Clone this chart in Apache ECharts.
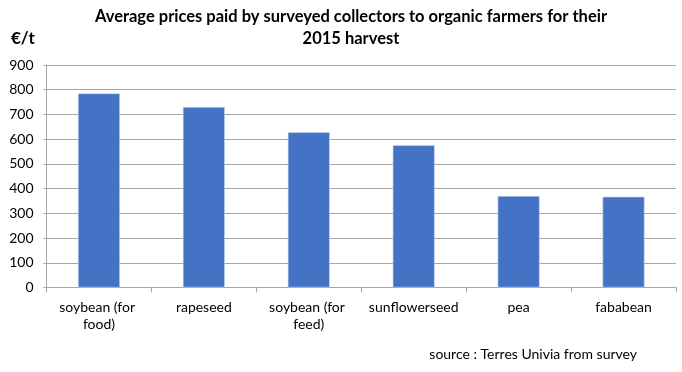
<!DOCTYPE html>
<html><head><meta charset="utf-8">
<script src="https://cdn.jsdelivr.net/npm/echarts@6/dist/echarts.min.js"></script>
<style>html,body{margin:0;padding:0;background:#fff}#c{width:682px;height:372px}</style>
</head><body><div id="c"></div>
<script>
const categories = ["soybean (for food)", "rapeseed", "soybean (for feed)", "sunflowerseed", "pea", "fababean"];
const prices = [785, 730, 628, 576, 370, 367];
const yTicks = {min: 0, max: 900, interval: 100};
const titleText = "Average prices paid by surveyed collectors to organic farmers for their\n2015 harvest";
const unitText = "€/t";
const sourceText = "source : Terres Univia from survey";

const FONT = "Lato";
const chart = echarts.init(document.getElementById('c'), null, {renderer: 'canvas'});
chart.setOption({
  animation: false,
  backgroundColor: '#fff',
  title: {
    text: titleText, left: 346, top: 1, textAlign: 'center',
    textStyle: {fontFamily: FONT, fontWeight: 'bold', fontSize: 16.5, color: '#000', lineHeight: 22, align: 'center'}
  },
  graphic: [
    {type: 'text', left: 11, top: 30, style: {text: unitText, font: 'bold 17px ' + FONT, fill: '#000'}},
    {type: 'text', right: 45, top: 347, style: {text: sourceText, font: '14px ' + FONT, fill: '#000'}}
  ],
  grid: {left: 46.5, right: 6, top: 65, bottom: 84.5, containLabel: false},
  xAxis: {
    type: 'category', data: categories,
    axisLine: {lineStyle: {color: '#a6a6a6', width: 1}},
    axisTick: {show: true, length: 5, lineStyle: {color: '#a6a6a6'}, alignWithLabel: false},
    axisLabel: {fontFamily: FONT, fontSize: 14, color: '#000', margin: 11, lineHeight: 17,
      width: 96, overflow: 'break', interval: 0}
  },
  yAxis: {
    type: 'value', min: yTicks.min, max: yTicks.max, interval: yTicks.interval,
    axisLine: {show: true, lineStyle: {color: '#a6a6a6'}},
    axisTick: {show: true, length: 3, lineStyle: {color: '#a6a6a6'}},
    splitLine: {lineStyle: {color: '#a6a6a6', width: 1}},
    axisLabel: {fontFamily: FONT, fontSize: 14, color: '#000', margin: 13}
  },
  series: [{
    type: 'bar', data: prices, barWidth: '40%',
    itemStyle: {color: '#4472c4', borderColor: '#c9d6ef', borderWidth: 0.6}
  }]
});
</script></body></html>
